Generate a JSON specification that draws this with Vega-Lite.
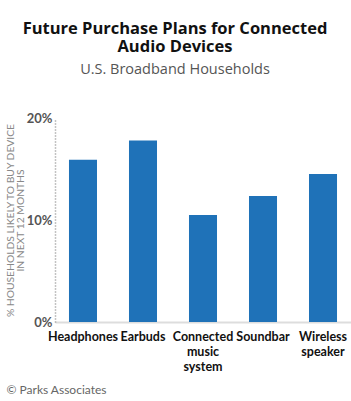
{
  "$schema": "https://vega.github.io/schema/vega-lite/v6.json",
  "width": 296,
  "height": 204,
  "autosize": {"type": "none"},
  "padding": {"left": 55, "top": 118, "right": 0, "bottom": 79},
  "background": "white",
  "title": {
    "text": ["Future Purchase Plans for Connected", "Audio Devices"],
    "subtitle": "U.S. Broadband Households",
    "font": "Open Sans",
    "fontSize": 16.5,
    "fontWeight": "bold",
    "color": "#111111",
    "lineHeight": 18,
    "subtitleFont": "Open Sans",
    "subtitleFontSize": 14.5,
    "subtitleColor": "#555555",
    "subtitlePadding": 7,
    "anchor": "middle",
    "frame": "group",
    "dx": -28,
    "offset": 36
  },
  "data": {
    "values": [
      {"device": "Headphones", "share": 0.159},
      {"device": "Earbuds", "share": 0.178},
      {"device": "Connected music system", "share": 0.105},
      {"device": "Soundbar", "share": 0.1235},
      {"device": "Wireless speaker", "share": 0.145}
    ]
  },
  "mark": {"type": "bar", "color": "#1f72b8"},
  "encoding": {
    "x": {
      "field": "device",
      "type": "nominal",
      "sort": null,
      "scale": {"paddingInner": 0.533, "paddingOuter": 0.233},
      "axis": {
        "labelAngle": 0,
        "labelFont": "Lato",
        "labelFontSize": 12.5,
        "labelFontWeight": "bold",
        "labelColor": "#111111",
        "labelPadding": 8,
        "labelLineHeight": 15,
        "labelExpr": "datum.label == 'Connected music system' ? ['Connected', 'music', 'system'] : datum.label == 'Wireless speaker' ? ['Wireless', 'speaker'] : datum.label",
        "ticks": false,
        "domainColor": "#dddddd",
        "domainWidth": 2,
        "title": "© Parks Associates",
        "titleFont": "Lato",
        "titleFontSize": 12,
        "titleFontWeight": "normal",
        "titleColor": "#666666",
        "titleAnchor": "start",
        "titleAlign": "left",
        "titleX": -49,
        "titlePadding": 12
      }
    },
    "y": {
      "field": "share",
      "type": "quantitative",
      "scale": {"domain": [0, 0.2], "nice": false},
      "axis": {
        "values": [0, 0.1, 0.2],
        "format": ".0%",
        "grid": false,
        "ticks": false,
        "labelFont": "Lato",
        "labelFontSize": 13,
        "labelFontWeight": "bold",
        "labelColor": "#555555",
        "labelPadding": 3,
        "domainColor": "#888888",
        "domainDash": [1, 2],
        "domainWidth": 1.5,
        "title": ["% HOUSEHOLDS LIKELY TO BUY DEVICE", "IN NEXT 12 MONTHS"],
        "titleFont": "Lato",
        "titleFontSize": 10.3,
        "titleFontWeight": "normal",
        "titleColor": "#888888",
        "titleLineHeight": 10,
        "titlePadding": 1
      }
    }
  },
  "config": {"view": {"stroke": null}}
}
